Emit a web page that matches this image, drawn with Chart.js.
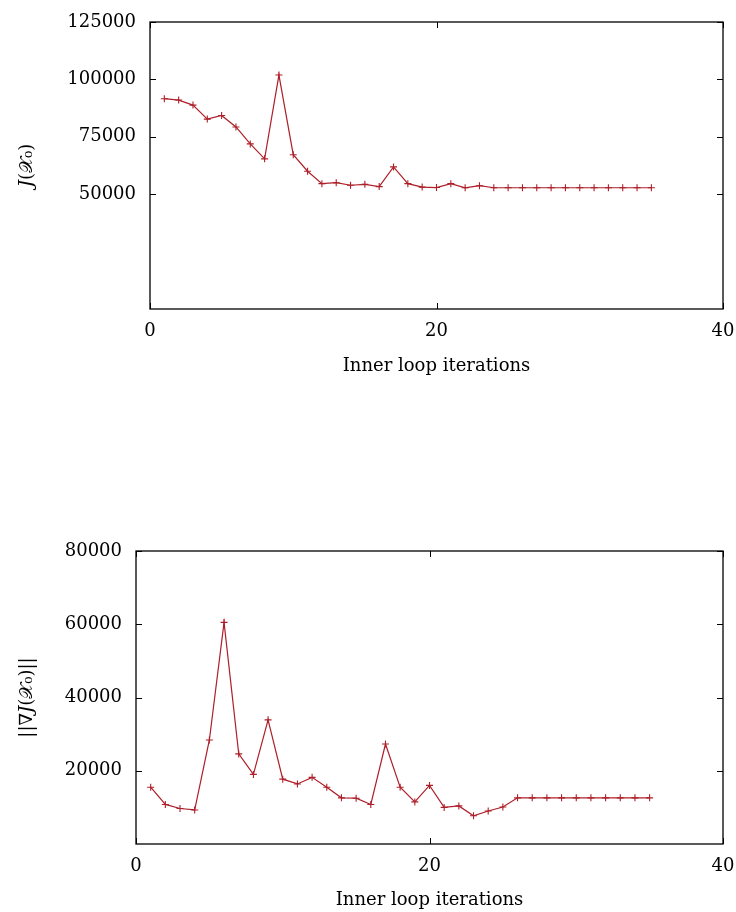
<!DOCTYPE html>
<html>
<head>
<meta charset="utf-8">
<script src="https://cdn.jsdelivr.net/npm/chart.js@4/dist/chart.umd.min.js"></script>
<style>
  html, body { margin: 0; padding: 0; background: #fff; }
  body { width: 736px; height: 912px; position: relative; overflow: hidden; }
  .box { position: absolute; left: 0; width: 736px; }
</style>
</head>
<body>
<div class="box" style="top:0;height:377px"><canvas id="costChart"></canvas></div>
<div class="box" style="top:460px;height:451px"><canvas id="gradChart"></canvas></div>
<script>
const iterations = Array.from({ length: 35 }, (_, i) => i + 1);

const costValues = [
  91600, 91000, 88800, 82700, 84300, 79300, 71900, 65400, 101900, 67200,
  60000, 54600, 55000, 53900, 54300, 53300, 61900, 54600, 53100, 52900,
  54600, 52800, 53700, 52800, 52800, 52800, 52800, 52800, 52800, 52800,
  52800, 52800, 52800, 52800, 52800
];

const gradValues = [
  15500, 10800, 9700, 9300, 28400, 60500, 24600, 19000, 33900, 17700,
  16400, 18200, 15500, 12600, 12500, 10800, 27300, 15500, 11500, 16000,
  10000, 10400, 7700, 9000, 10100, 12600, 12600, 12600, 12600, 12600,
  12600, 12600, 12600, 12600, 12600
];

const xTicks = [0, 20, 40];
const costTicks = [50000, 75000, 100000, 125000];
const gradTicks = [20000, 40000, 60000, 80000];

const lineColor = "#ad1f29";
const fontFamily = '"DejaVu Serif", serif';

// gnuplot style frame with ticks pointing inward on all four sides
const framePlugin = {
  id: "frame",
  afterDraw(chart) {
    const { ctx, chartArea: a, scales } = chart;
    const len = 6;
    ctx.save();
    ctx.strokeStyle = "#000";
    ctx.lineWidth = 1;
    scales.y.ticks.forEach((t) => {
      const y = Math.round(scales.y.getPixelForValue(t.value)) + 0.5;
      ctx.beginPath();
      ctx.moveTo(a.left, y); ctx.lineTo(a.left + len, y);
      ctx.moveTo(a.right, y); ctx.lineTo(a.right - len, y);
      ctx.stroke();
    });
    scales.x.ticks.forEach((t) => {
      const x = Math.round(scales.x.getPixelForValue(t.value)) + 0.5;
      ctx.beginPath();
      ctx.moveTo(x, a.bottom); ctx.lineTo(x, a.bottom - len);
      ctx.moveTo(x, a.top); ctx.lineTo(x, a.top + len);
      ctx.stroke();
    });
    ctx.lineWidth = 1.3;
    ctx.strokeRect(a.left, a.top, a.right - a.left, a.bottom - a.top);
    ctx.restore();
  }
};

function makeChart(id, values, yMax, yTicks, yTitle, geo) {
  return new Chart(document.getElementById(id), {
    type: "line",
    data: {
      labels: iterations,
      datasets: [{
        data: values.map((v, i) => ({ x: iterations[i], y: v })),
        borderColor: lineColor,
        backgroundColor: lineColor,
        borderWidth: 1.2,
        tension: 0,
        pointStyle: "cross",
        pointRadius: 3.5,
        pointBorderWidth: 1.1,
        pointBorderColor: lineColor,
        fill: false
      }]
    },
    plugins: [framePlugin],
    options: {
      responsive: true,
      maintainAspectRatio: false,
      animation: false,
      events: [],
      layout: { padding: { top: geo.top, right: 13, left: 0, bottom: 0 } },
      plugins: { legend: { display: false }, tooltip: { enabled: false } },
      scales: {
        x: {
          type: "linear",
          min: 0,
          max: 40,
          afterBuildTicks: (scale) => { scale.ticks = xTicks.map((v) => ({ value: v })); },
          afterFit: (scale) => {
            scale.height = geo.xHeight;
            scale.paddingLeft = 0;
            scale.paddingRight = 0;
          },
          grid: { display: false, drawTicks: false },
          border: { display: false },
          ticks: { color: "#000", padding: 12, maxRotation: 0, font: { family: fontFamily, size: 18 } },
          title: {
            display: true,
            text: "Inner loop iterations",
            color: "#000",
            padding: 0,
            font: { family: fontFamily, size: 18 }
          }
        },
        y: {
          min: 0,
          max: yMax,
          afterBuildTicks: (scale) => { scale.ticks = yTicks.map((v) => ({ value: v })); },
          afterFit: (scale) => {
            scale.width = geo.yWidth;
            scale.paddingTop = 0;
            scale.paddingBottom = 0;
          },
          grid: { display: false, drawTicks: false },
          border: { display: false },
          ticks: {
            color: "#000",
            padding: 14,
            font: { family: fontFamily, size: 18 },
            callback: (value) => String(value)
          },
          title: {
            display: true,
            text: yTitle,
            color: "#000",
            padding: { top: 17, bottom: 0 },
            font: { family: fontFamily, size: 18 }
          }
        }
      }
    }
  });
}

makeChart("costChart", costValues, 125000, costTicks, "𝐽(𝒳₀)", { top: 22, xHeight: 68, yWidth: 150 });
makeChart("gradChart", gradValues, 80000, gradTicks, "||∇𝐽(𝒳₀)||", { top: 91, xHeight: 67, yWidth: 136 });
</script>
</body>
</html>
